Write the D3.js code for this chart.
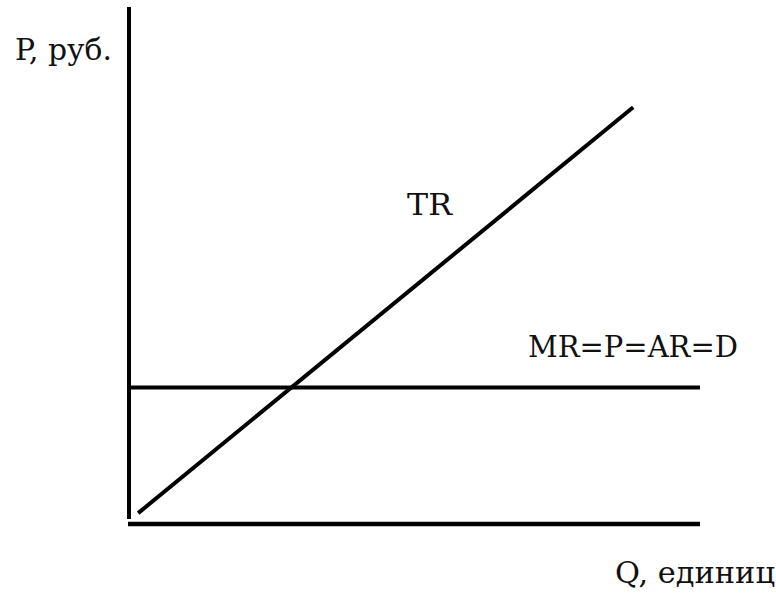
<!DOCTYPE html>
<html>
<head>
<meta charset="utf-8">
<script src="https://cdn.jsdelivr.net/npm/d3@7"></script>
<style>
  html, body { margin: 0; padding: 0; background: #fff; }
  svg { display: block; }
  text { font-family: "DejaVu Serif", "Liberation Serif", serif; fill: #111; font-weight: normal; }
</style>
</head>
<body>
<svg id="chart" width="776" height="593"></svg>
<script>
// Data (in abstract units 0..100)
const trQ = [1.6, 88.3];
const trValue = [2.1, 80.6];
const mrLevel = [26.4];
const qDomain = [0, 100];
const pDomain = [0, 100];
const axisLabelY = "P, руб.";
const axisLabelX = "Q, единиц";
const trLabel = "TR";
const mrLabel = "MR=P=AR=D";

const svg = d3.select("#chart");
const x = d3.scaleLinear().domain(qDomain).range([129, 700]);
const y = d3.scaleLinear().domain(pDomain).range([524, 7]);

// Axes lines
svg.append("line")
  .attr("x1", x(0)).attr("x2", x(0))
  .attr("y1", y(100)).attr("y2", y(0) - 5)
  .attr("stroke", "#000").attr("stroke-width", 4);
svg.append("line")
  .attr("x1", x(0) - 1).attr("x2", x(100))
  .attr("y1", y(0)).attr("y2", y(0))
  .attr("stroke", "#000").attr("stroke-width", 4.5);

// MR line
svg.selectAll(".mr").data(mrLevel).enter().append("line")
  .attr("class", "mr")
  .attr("x1", x(0)).attr("x2", x(100))
  .attr("y1", d => y(d)).attr("y2", d => y(d))
  .attr("stroke", "#000").attr("stroke-width", 4);

// TR line
const trData = trQ.map((q, i) => [q, trValue[i]]);
svg.append("path")
  .datum(trData)
  .attr("d", d3.line().x(d => x(d[0])).y(d => y(d[1])))
  .attr("fill", "none").attr("stroke", "#000").attr("stroke-width", 4);

// Labels
function label(txt, lx, ly, len) {
  svg.append("text")
    .attr("x", lx).attr("y", ly)
    .attr("font-size", 30)
    .attr("textLength", len)
    .attr("lengthAdjust", "spacingAndGlyphs")
    .text(txt);
}
label(axisLabelY, 15, 60, 97);
label(trLabel, 407, 215, 45);
label(mrLabel, 528, 357, 210);
label(axisLabelX, 615, 583, 160);
</script>
</body>
</html>
